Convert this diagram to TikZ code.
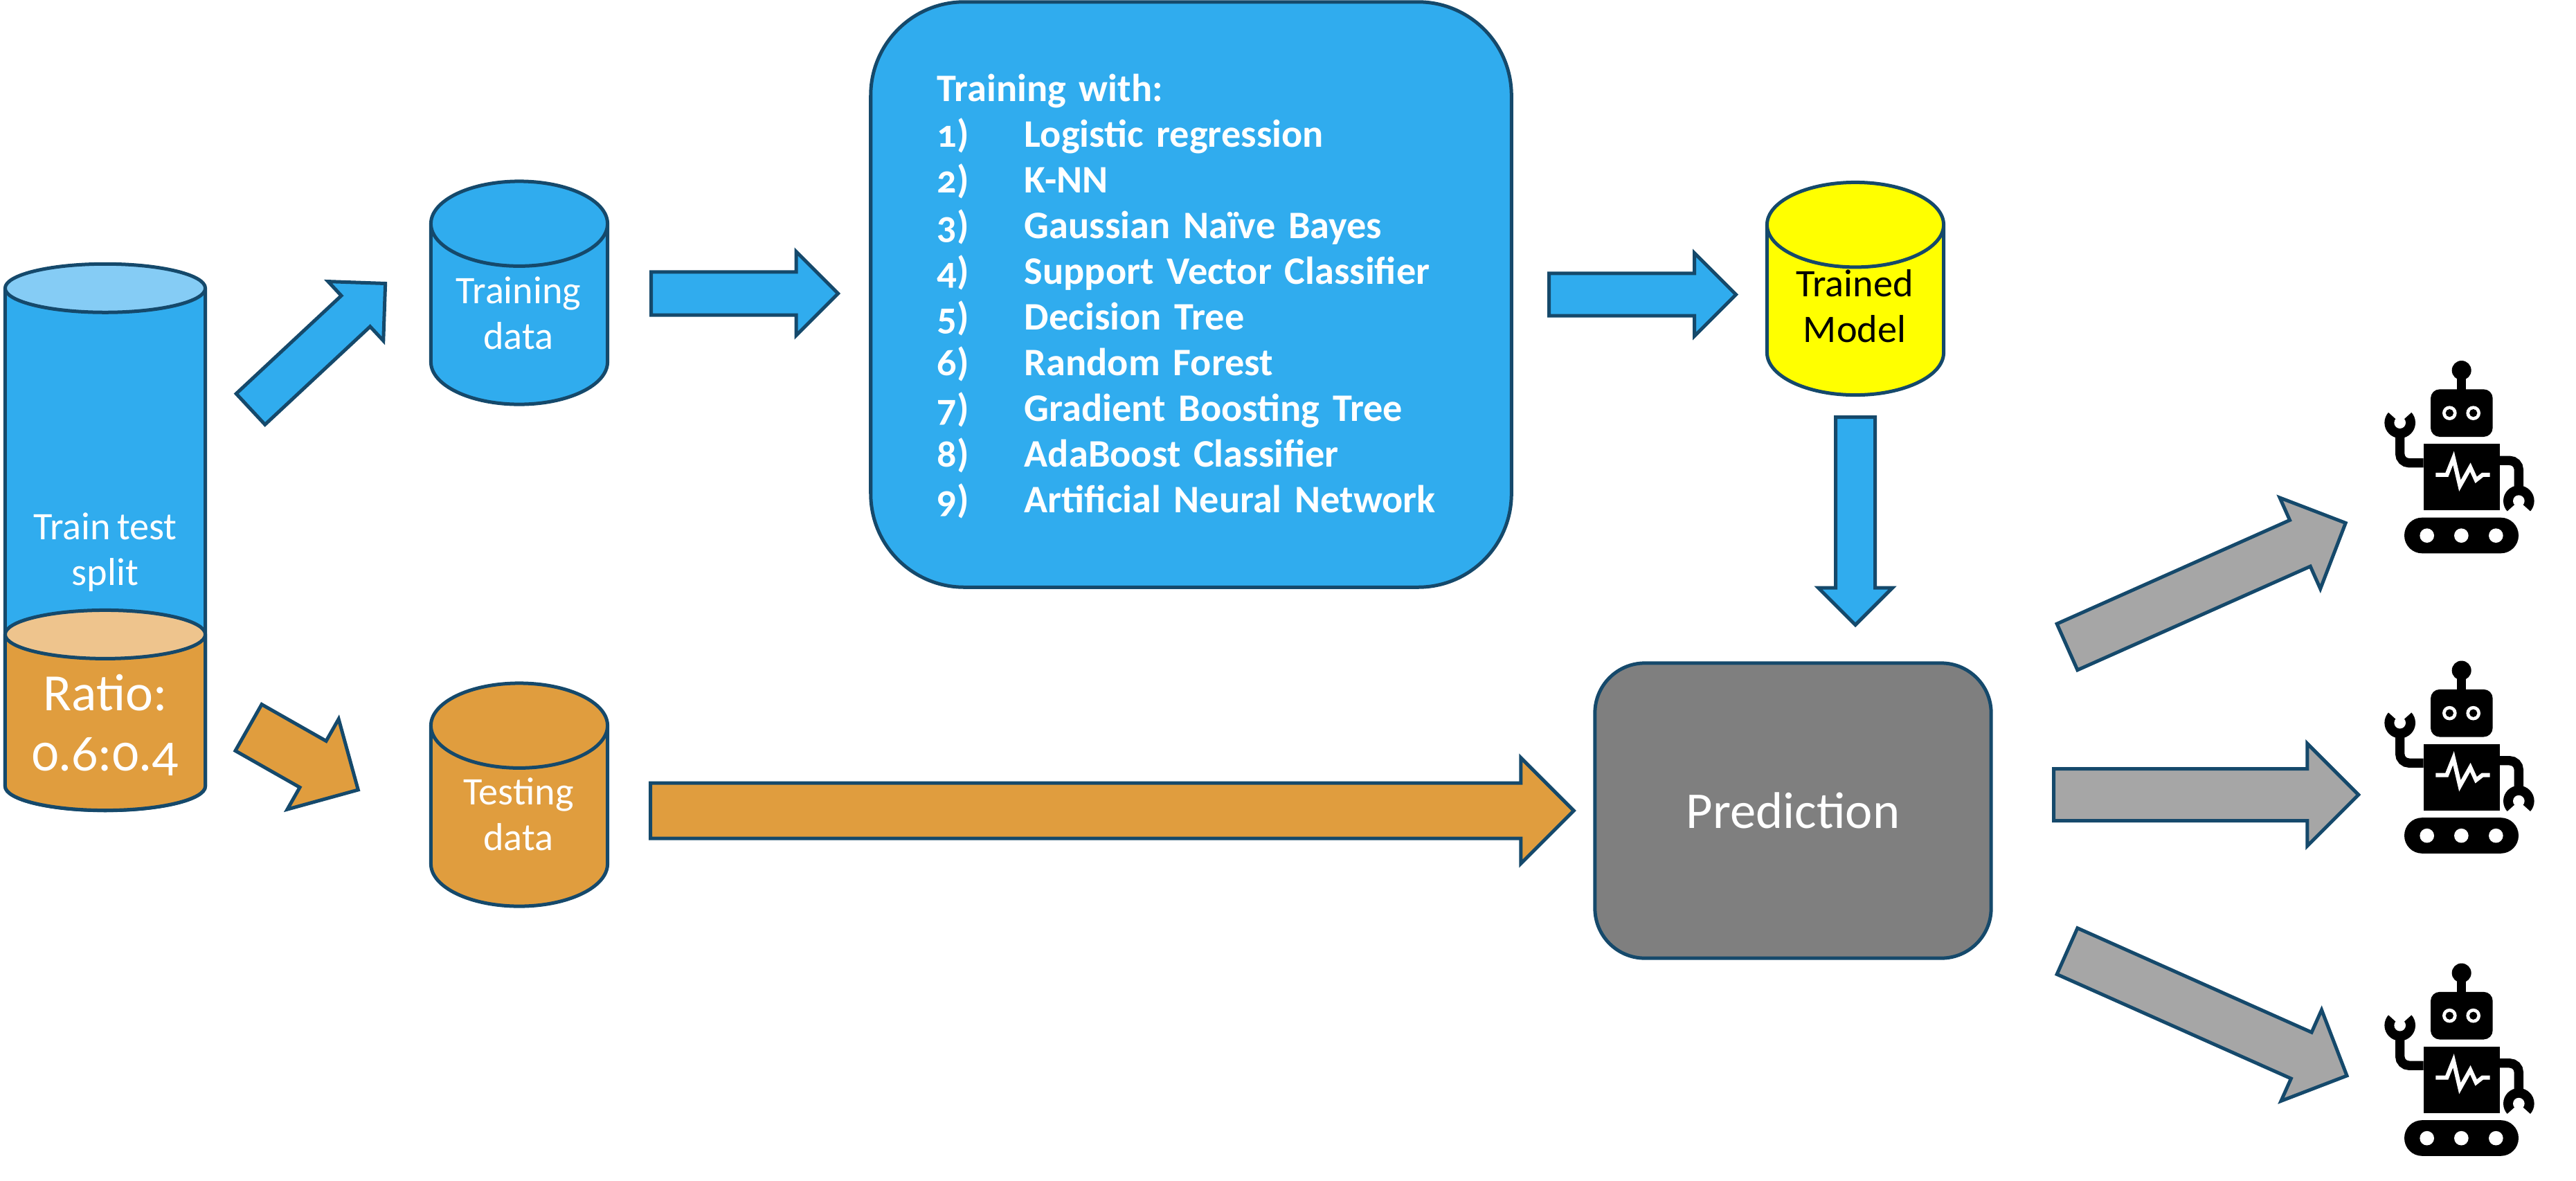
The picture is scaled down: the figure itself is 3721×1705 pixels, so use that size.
\documentclass[tikz,border=0pt]{standalone}
\usepackage{fontspec}
\setmainfont{Carlito}[Numbers=OldStyle,WordSpace=0.7]
\usetikzlibrary{shapes.geometric,shapes.arrows}
\definecolor{edgeblue}{HTML}{15496B}
\definecolor{skyfill}{HTML}{30ACEE}
\definecolor{skylight}{HTML}{85CCF5}
\definecolor{amberfill}{HTML}{E09D3E}
\definecolor{amberlight}{HTML}{EEC48D}
\definecolor{arrowgrey}{HTML}{A6A6A6}
\definecolor{boxgrey}{HTML}{7F7F7F}
\definecolor{modelyellow}{HTML}{FFFF00}
\tikzset
{
    database/.style  = {cylinder, shape border rotate=90, cylinder uses custom fill, draw=edgeblue, line width=0.05cm, inner xsep=1.275cm, inner ysep=0pt, outer sep=0pt, anchor=shape center, minimum width=2.55cm, minimum height=3.22cm, aspect=0.48},
    skydb/.style     = {database, cylinder body fill=skyfill, cylinder end fill=skyfill},
    amberdb/.style   = {database, cylinder body fill=amberfill, cylinder end fill=amberfill},
    yellowdb/.style  = {database, cylinder body fill=modelyellow, cylinder end fill=modelyellow},
    tallskydb/.style = {skydb, inner xsep=1.445cm, minimum width=2.89cm, minimum height=7.89cm, aspect=0.242, cylinder end fill=skylight},
    tallamber/.style = {amberdb, inner xsep=1.445cm, minimum width=2.89cm, minimum height=2.89cm, aspect=0.242, cylinder end fill=amberlight},
    dbtext/.style    = {align=center, text=white, inner sep=0pt, font=\fontsize{16}{18.78}\selectfont},
    blockarrow/.style n args={3}{single arrow, anchor=tail, single arrow tip angle=90, draw=edgeblue, line width=0.05cm, inner xsep=0pt, inner ysep=(#2cm-2*#3cm)/2, outer sep=0pt, minimum height=#1cm, minimum width=#2cm, single arrow head extend=#3cm},
    roundbox/.style  = {rectangle, draw=edgeblue, line width=0.05cm, inner sep=0pt, outer sep=0pt, text=white, align=left},
    robot/.pic = {
        \begin{scope}[scale=0.3333]
            \fill (467,165) circle (42);
            \fill (447,165) rectangle (487,250);
            \fill[rounded corners=0.13cm] (333,247) rectangle (602,453);
            \fill[white] (415,350) circle (31) (518,350) circle (31);
            \fill (415,350) circle (17) (518,350) circle (17);
            \fill (302,483) rectangle (632,772);
            \draw[white, line width=0.06cm] (355,618) -- (403,618) -- (432,545) -- (460,665) -- (505,585) -- (530,640) -- (558,618) -- (590,618);
            \draw[line width=0.133cm, rounded corners=0.13cm] (302,566) -- (200,566) -- (200,440);
            \draw[line width=0.133cm, rounded corners=0.13cm] (632,556) -- (715,556) -- (715,690);
            \fill (200,392) circle (67);
            \fill[white] (200,392) -- (140,338) -- (140,300) -- (260,300) -- (260,338) -- cycle;
            \fill[white] (200,392) circle (25);
            \fill (715,731) circle (67);
            \fill[white] (715,731) -- (655,785) -- (655,820) -- (775,820) -- (775,785) -- cycle;
            \fill[white] (715,731) circle (25);
            \fill[rounded corners=0.257cm] (219,803) rectangle (714,958);
            \fill[white] (317,881) circle (31) (466,881) circle (31) (616,881) circle (31);
        \end{scope}
    }
}

\begin{document}
\begin{tikzpicture}[x=0.01cm, y=-0.01cm]
    \useasboundingbox (0,0) rectangle (3721,1705);

    \node (split)    [tallskydb] at (152,776)   {};
    \node (ratio)    [tallamber] at (152,1026)  {};
    \node (trainset) [skydb]     at (750,423)   {};
    \node (testset)  [amberdb]   at (750,1148)  {};
    \node (trained)  [yellowdb, minimum height=3.07cm] at (2680,417) {};

    \node (splittxt) [dbtext] at (152,798) {Train test\\split};
    \node (ratiotxt) [dbtext, font=\fontsize{21.5}{24.75}\selectfont] at (152,1047) {Ratio:\\0.6:0.4};
    \node (trainsettxt) [dbtext] at (749,452) {Training\\data};
    \node (testsettxt)  [dbtext] at (749,1176) {Testing\\data};
    \node (trainedtxt)  [dbtext, text=black] at (2679,442) {Trained\\Model};

    \node (models) [roundbox, fill=skyfill, rounded corners=1.35cm, minimum width=9.25cm, minimum height=8.45cm, text width=7.33cm, font=\fontsize{16}{18.78}\selectfont\bfseries] at (1720.5,425.5)
    {\begin{tabular}{@{}p{1.26cm}@{}l@{}}
        \noalign{\vspace{0.1cm}}
        \multicolumn{2}{@{}l}{Training with:}\\
        1) & Logistic regression\\
        2) & K-NN\\
        3) & Gaussian Naïve Bayes\\
        4) & Support Vector Classifier\\
        5) & Decision Tree\\
        6) & Random Forest\\
        7) & Gradient Boosting Tree\\
        8) & AdaBoost Classifier\\
        9) & Artificial Neural Network
    \end{tabular}};
    \node (predict) [roundbox, fill=boxgrey, rounded corners=0.72cm, minimum width=5.72cm, minimum height=4.26cm, align=center, font=\fontsize{21.2}{24}\selectfont] at (2590,1171) {Prediction};

    \node (toTrain)   [blockarrow={2.66}{1.12}{0.28},   fill=skyfill, rotate=43]    at (362,591)  {};
    \node (toTest)    [blockarrow={1.82}{1.45}{0.365},  fill=amberfill, rotate=-29.6] at (359,1051) {};
    \node (toModels)  [blockarrow={2.70}{1.16}{0.295},  fill=skyfill]               at (940.5,424) {};
    \node (toTrained) [blockarrow={2.70}{1.15}{0.295},  fill=skyfill]               at (2237.5,425.5) {};
    \node (toPredict) [blockarrow={3.00}{1.02}{0.25},   fill=skyfill, rotate=-90]   at (2680,602.5) {};
    \node (testPred)  [blockarrow={13.33}{1.48}{0.365}, fill=amberfill]             at (939.5,1171) {};
    \node (outUp)     [blockarrow={4.40}{1.39}{0.355},  fill=arrowgrey, rotate=24]  at (2986,934.5) {};
    \node (outMid)    [blockarrow={4.40}{1.43}{0.365},  fill=arrowgrey]             at (2966.5,1148) {};
    \node (outDown)   [blockarrow={4.42}{1.39}{0.355},  fill=arrowgrey, rotate=-24] at (2986,1374) {};

    \pic at (3400,480)  {robot};
    \pic at (3400,913.5) {robot};
    \pic at (3400,1350.5) {robot};
\end{tikzpicture}
\end{document}
